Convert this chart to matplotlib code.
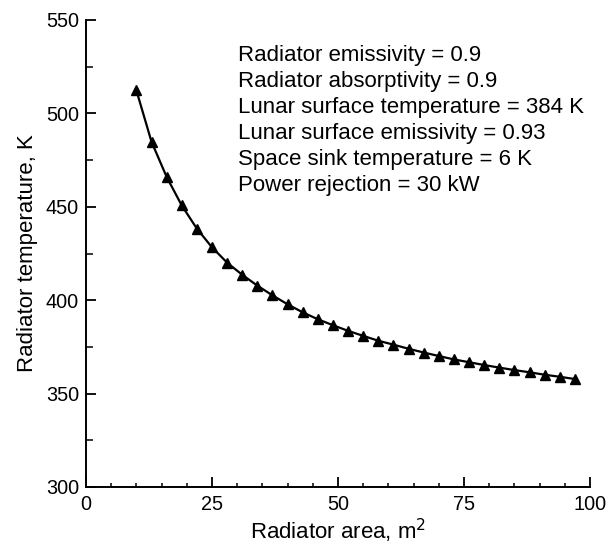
import matplotlib
matplotlib.use("Agg")
import matplotlib.pyplot as plt
from matplotlib.ticker import MultipleLocator

plt.rcParams['font.family'] = ['Liberation Sans', 'DejaVu Sans']

area = [10, 13, 16, 19, 22, 25, 28, 31, 34, 37, 40, 43, 46, 49, 52, 55, 58, 61,
        64, 67, 70, 73, 76, 79, 82, 85, 88, 91, 94, 97]
temperature = [512.3, 484.8, 466.0, 450.7, 438.3, 428.3, 420.1, 413.6, 407.8, 402.6,
               397.8, 393.5, 389.8, 386.6, 383.6, 380.9, 378.3, 376.2, 374.0, 372.0,
               370.1, 368.3, 366.8, 365.3, 363.9, 362.6, 361.4, 360.1, 359.0, 357.8]

x_ticks = [0, 25, 50, 75, 100]
y_ticks = [300, 350, 400, 450, 500, 550]

notes = ["Radiator emissivity = 0.9",
         "Radiator absorptivity = 0.9",
         "Lunar surface temperature = 384 K",
         "Lunar surface emissivity = 0.93",
         "Space sink temperature = 6 K",
         "Power rejection = 30 kW"]

fig = plt.figure(figsize=(6.11, 5.46), dpi=100)
ax = fig.add_axes([86/611, 1-487/546, (590-86)/611, (487-20)/546])

ax.plot(area, temperature, color='black', lw=1.6, marker='^', ms=6.5,
        markerfacecolor='black', markeredgecolor='black')

ax.set_xlim(0, 100)
ax.set_ylim(300, 550)
ax.set_xticks(x_ticks)
ax.set_yticks(y_ticks)
ax.xaxis.set_minor_locator(MultipleLocator(5))
ax.yaxis.set_minor_locator(MultipleLocator(25))

for s in ['top', 'right']:
    ax.spines[s].set_visible(False)
for s in ['left', 'bottom']:
    ax.spines[s].set_linewidth(1.4)

ax.tick_params(which='major', direction='in', length=7.5, width=1.3,
               labelsize=14.3, colors='black')
ax.tick_params(axis='x', which='minor', direction='in', length=3, width=1.1)
ax.tick_params(axis='y', which='minor', direction='in', length=5, width=1.1)
ax.tick_params(axis='y', which='major', pad=5)
ax.tick_params(axis='x', which='major', pad=6)

ax.set_xlabel("Radiator area, m$^2$", fontsize=16, va='center')
ax.xaxis.set_label_coords(0.5, (487 - 531) / 467)
ax.set_ylabel("Radiator temperature, K", fontsize=16, va='center')
ax.yaxis.set_label_coords((27 - 86) / 504, 0.5)

x0 = (238 - 86) / 504
for i, t in enumerate(notes):
    yc = (487 - (55.5 + 25.9 * i)) / 467
    ax.text(x0, yc, t, transform=ax.transAxes, fontsize=16, va='center', ha='left')

fig.savefig("out.png", dpi=100)
